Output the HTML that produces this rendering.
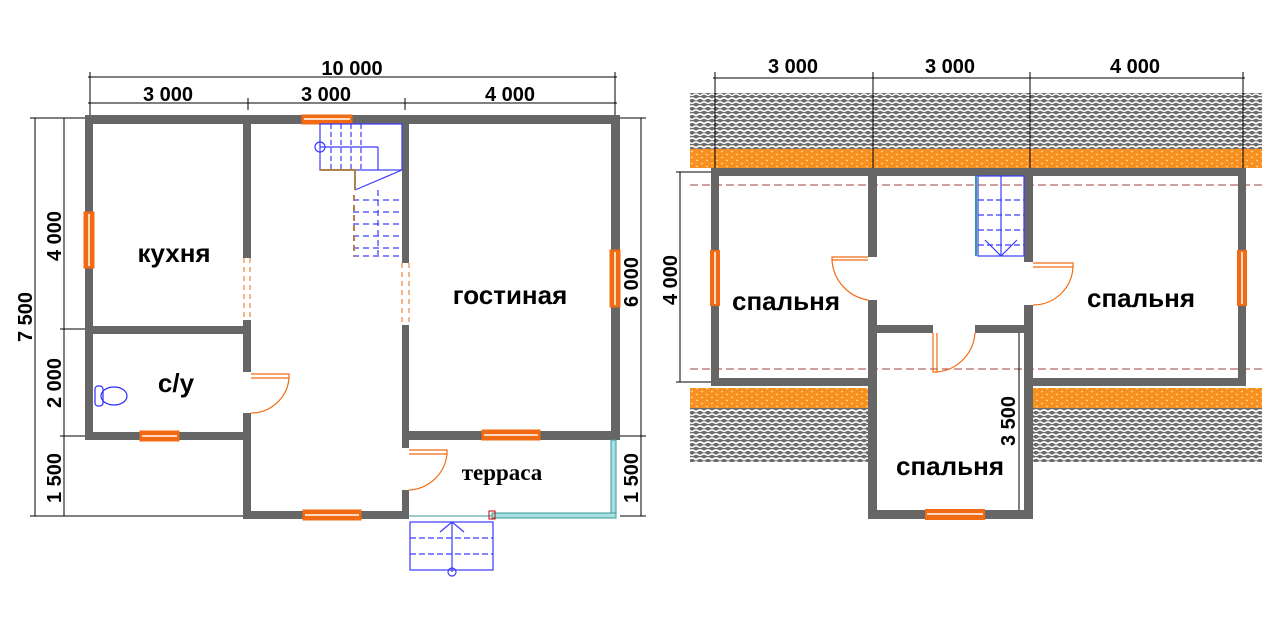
<!DOCTYPE html>
<html><head><meta charset="utf-8"><style>
html,body{margin:0;padding:0;background:#fff}
svg{display:block}
text{font-family:"Liberation Sans",sans-serif;font-weight:bold}
</style></head><body>
<svg width="1280" height="640" viewBox="0 0 1280 640" xmlns="http://www.w3.org/2000/svg">
<defs>
<pattern id="tile" width="8" height="8" patternUnits="userSpaceOnUse">
<rect width="8" height="8" fill="#6a6a6a"/>
<path d="M0 4 Q4 0 8 4" stroke="#fff" stroke-width="1.8" fill="none"/>
<path d="M-4 8 Q0 4 4 8 M4 8 Q8 4 12 8" stroke="#fff" stroke-width="1.3" fill="none"/>
</pattern>
<pattern id="ins" width="10" height="6" patternUnits="userSpaceOnUse">
<rect width="10" height="6" fill="#f7901e"/>
<path d="M1 2 l2 -1 M6 4 l2 1" stroke="#ffd9a8" stroke-width="1"/>
</pattern>
</defs>

<g stroke="#000" stroke-width="1" fill="none">
<line x1="88" y1="77" x2="617" y2="77"/>
<line x1="88" y1="103" x2="617" y2="103"/>
<line x1="90" y1="72" x2="90" y2="118"/><line x1="615" y1="72" x2="615" y2="118"/>
<line x1="248" y1="98" x2="248" y2="110"/><line x1="405" y1="98" x2="405" y2="110"/>
<line x1="35" y1="118" x2="35" y2="516"/><line x1="64" y1="118" x2="64" y2="516"/>
<line x1="30" y1="118" x2="86" y2="118"/><line x1="30" y1="516" x2="245" y2="516"/>
<line x1="60" y1="329" x2="86" y2="329"/><line x1="60" y1="436" x2="86" y2="436"/>
<line x1="641" y1="118" x2="641" y2="516"/>
<line x1="620" y1="118" x2="646" y2="118"/><line x1="620" y1="436" x2="646" y2="436"/><line x1="620" y1="516" x2="646" y2="516"/>
</g>
<g font-size="20" fill="#000">
<text x="352" y="75" text-anchor="middle">10 000</text>
<text x="168" y="101" text-anchor="middle">3 000</text>
<text x="326" y="101" text-anchor="middle">3 000</text>
<text x="510" y="101" text-anchor="middle">4 000</text>
<text transform="translate(32,317) rotate(-90)" text-anchor="middle">7 500</text>
<text transform="translate(61,236) rotate(-90)" text-anchor="middle">4 000</text>
<text transform="translate(61,383) rotate(-90)" text-anchor="middle">2 000</text>
<text transform="translate(61,478) rotate(-90)" text-anchor="middle">1 500</text>
<text transform="translate(638,282) rotate(-90)" text-anchor="middle">6 000</text>
<text transform="translate(638,478) rotate(-90)" text-anchor="middle">1 500</text>
</g>

<g fill="#666">
<rect x="85" y="115" width="535" height="9"/>
<rect x="85" y="115" width="8" height="325"/>
<rect x="85" y="326" width="166" height="8"/>
<rect x="85" y="432" width="166" height="8"/>
<rect x="243" y="115" width="8" height="143"/>
<rect x="243" y="320" width="8" height="52"/>
<rect x="243" y="413" width="8" height="106"/>
<rect x="243" y="511" width="166" height="8"/>
<rect x="402" y="115" width="7" height="148"/>
<rect x="402" y="325" width="7" height="123"/>
<rect x="402" y="490" width="7" height="29"/>
<rect x="402" y="431" width="218" height="9"/>
<rect x="611" y="115" width="9" height="325"/>
</g>
<g fill="#f26b12" stroke="#f26b12">
<rect x="302" y="115" width="50" height="9"/>
<rect x="84" y="212" width="10" height="56"/>
<rect x="610" y="250" width="10" height="57"/>
<rect x="140" y="431" width="39" height="10"/>
<rect x="303" y="510" width="58" height="10"/>
<rect x="482" y="430" width="58" height="10"/>
</g>
<g stroke="#fff" stroke-width="1.5">
<line x1="304" y1="119" x2="350" y2="119"/><line x1="89" y1="214" x2="89" y2="266"/>
<line x1="615" y1="252" x2="615" y2="305"/><line x1="142" y1="436" x2="177" y2="436"/>
<line x1="305" y1="515" x2="359" y2="515"/><line x1="484" y1="435" x2="538" y2="435"/>
</g>
<g stroke="#f26b12" stroke-width="1" stroke-dasharray="5,4">
<line x1="244" y1="258" x2="244" y2="320"/><line x1="250" y1="258" x2="250" y2="320"/>
<line x1="402" y1="263" x2="402" y2="325"/><line x1="409" y1="263" x2="409" y2="325"/>
</g>
<g stroke="#f26b12" stroke-width="1.2" fill="none">
<path d="M251 374 H289 V378 H251"/><path d="M289 378 A38 38 0 0 1 251 413"/>
<path d="M409 450 H447 V454 H409"/><path d="M447 454 A40 40 0 0 1 409 490"/>
</g>
<g stroke="#3b3bff" stroke-width="1.2" fill="none">
<rect x="320" y="124" width="82" height="46"/>
<line x1="331" y1="124" x2="331" y2="170" stroke-dasharray="5,3"/>
<line x1="341" y1="124" x2="341" y2="170" stroke-dasharray="5,3"/>
<line x1="351" y1="124" x2="351" y2="170" stroke-dasharray="5,3"/>
<line x1="361" y1="124" x2="361" y2="170" stroke-dasharray="5,3"/>
<line x1="320" y1="147" x2="378" y2="147"/><line x1="378" y1="147" x2="378" y2="170"/>
<circle cx="320" cy="147" r="5"/>
<line x1="355" y1="190" x2="402" y2="170"/>
<g stroke-dasharray="6,4">
<line x1="353" y1="200" x2="402" y2="200"/><line x1="353" y1="212" x2="402" y2="212"/>
<line x1="353" y1="224" x2="402" y2="224"/><line x1="353" y1="236" x2="402" y2="236"/>
<line x1="353" y1="248" x2="402" y2="248"/><line x1="378" y1="190" x2="378" y2="255"/>
<line x1="353" y1="256" x2="402" y2="256"/>
</g>
</g>
<path d="M320 170 H355 V190" stroke="#b08050" stroke-width="2" fill="none"/>
<line x1="354" y1="195" x2="354" y2="257" stroke="#b08050" stroke-width="2" stroke-dasharray="6,4"/>
<g stroke="#2a2aff" stroke-width="1.2" fill="none">
<rect x="95" y="386" width="8" height="20" rx="3"/><ellipse cx="114" cy="396" rx="13" ry="9"/>
</g>
<rect x="611" y="440" width="5" height="76" fill="#a8e0e0" stroke="#3a9a9a"/>
<rect x="492" y="513" width="124" height="5" fill="#a8e0e0" stroke="#3a9a9a"/>
<line x1="409" y1="516" x2="492" y2="516" stroke="#3a9a9a"/>
<rect x="489" y="511" width="6" height="8" fill="none" stroke="#c00"/>
<g stroke="#3b3bff" stroke-width="1.2" fill="none">
<rect x="410" y="522" width="83" height="48"/>
<line x1="410" y1="538" x2="493" y2="538" stroke-dasharray="6,3"/>
<line x1="410" y1="554" x2="493" y2="554" stroke-dasharray="6,3"/>
<line x1="452" y1="522" x2="452" y2="572"/>
<path d="M440 532 L452 522 L464 532"/><circle cx="452" cy="572" r="4"/>
</g>
<g font-size="26" fill="#000">
<text x="174" y="262" text-anchor="middle">кухня</text>
<text x="176" y="392" text-anchor="middle">с/у</text>
<text x="510" y="304" text-anchor="middle">гостиная</text>
</g>
<text x="502" y="480" text-anchor="middle" font-size="23" font-weight="bold" style="font-family:'Liberation Serif',serif">терраса</text>

<rect x="690" y="93" width="572" height="56" fill="url(#tile)"/>
<rect x="690" y="149" width="572" height="19" fill="url(#ins)"/>
<rect x="690" y="388" width="178" height="20" fill="url(#ins)"/>
<rect x="690" y="408" width="178" height="54" fill="url(#tile)"/>
<rect x="1033" y="388" width="229" height="20" fill="url(#ins)"/>
<rect x="1033" y="408" width="229" height="54" fill="url(#tile)"/>
<g stroke="#a04040" stroke-width="1" stroke-dasharray="8,4" fill="none">
<line x1="690" y1="185" x2="1262" y2="185"/><line x1="690" y1="369" x2="1262" y2="369"/>
</g>
<g stroke="#000" stroke-width="1" fill="none">
<line x1="713" y1="78" x2="1245" y2="78"/>
<line x1="715" y1="72" x2="715" y2="168"/><line x1="873" y1="72" x2="873" y2="168"/>
<line x1="1030" y1="72" x2="1030" y2="168"/><line x1="1243" y1="72" x2="1243" y2="168"/>
<line x1="680" y1="172" x2="680" y2="382"/>
<line x1="676" y1="172" x2="711" y2="172"/><line x1="676" y1="382" x2="711" y2="382"/>
<line x1="1019" y1="332" x2="1019" y2="510"/>
</g>
<g fill="#666">
<rect x="711" y="168" width="535" height="8"/>
<rect x="711" y="168" width="8" height="218"/>
<rect x="1238" y="168" width="8" height="218"/>
<rect x="711" y="378" width="165" height="8"/>
<rect x="1025" y="378" width="221" height="8"/>
<rect x="868" y="168" width="9" height="89"/>
<rect x="868" y="300" width="9" height="219"/>
<rect x="1024" y="168" width="9" height="94"/>
<rect x="1024" y="305" width="9" height="214"/>
<rect x="868" y="325" width="65" height="8"/>
<rect x="975" y="325" width="58" height="8"/>
<rect x="868" y="510" width="165" height="9"/>
</g>
<g fill="#f26b12">
<rect x="710" y="250" width="10" height="56"/>
<rect x="1237" y="250" width="10" height="56"/>
<rect x="925" y="509" width="60" height="11"/>
</g>
<g stroke="#fff" stroke-width="1.5">
<line x1="715" y1="252" x2="715" y2="304"/><line x1="1242" y1="252" x2="1242" y2="304"/>
<line x1="927" y1="514" x2="983" y2="514"/>
</g>
<g stroke="#f26b12" stroke-width="1.2" fill="none">
<path d="M868 257 H832 V260 H868"/><path d="M832 260 A43 43 0 0 0 868 300"/>
<path d="M1033 263 H1073 V267 H1033"/><path d="M1073 267 A40 40 0 0 1 1033 305"/>
<path d="M933 333 V372 H937 V333"/><path d="M937 372 A42 42 0 0 0 975 333"/>
</g>
<g stroke="#3b3bff" stroke-width="1.2" fill="none">
<rect x="978" y="176" width="46" height="80"/>
<g stroke-dasharray="6,3">
<line x1="978" y1="200" x2="1024" y2="200"/><line x1="978" y1="215" x2="1024" y2="215"/>
<line x1="978" y1="230" x2="1024" y2="230"/><line x1="978" y1="245" x2="1024" y2="245"/>
</g>
<line x1="1001" y1="176" x2="1001" y2="256"/><path d="M985 240 L1001 256 L1017 240"/>
</g>
<line x1="976" y1="176" x2="976" y2="256" stroke="#3a9a9a" stroke-width="2"/>
<g font-size="26" fill="#000">
<text x="786" y="310" text-anchor="middle">спальня</text>
<text x="1141" y="307" text-anchor="middle">спальня</text>
<text x="950" y="475" text-anchor="middle">спальня</text>
</g>
<g font-size="20" fill="#000">
<text x="793" y="73" text-anchor="middle">3 000</text>
<text x="950" y="73" text-anchor="middle">3 000</text>
<text x="1135" y="73" text-anchor="middle">4 000</text>
<text transform="translate(677,280) rotate(-90)" text-anchor="middle">4 000</text>
<text transform="translate(1015,421) rotate(-90)" text-anchor="middle">3 500</text>
</g>
</svg>
</body></html>
